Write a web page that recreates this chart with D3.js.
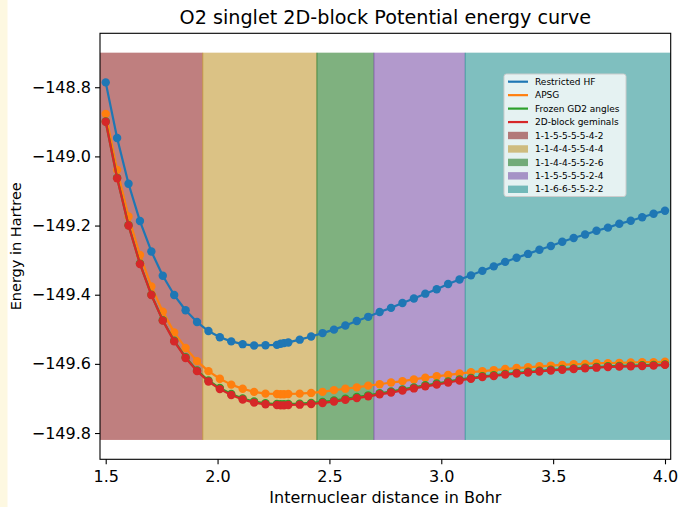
<!DOCTYPE html>
<html><head><meta charset="utf-8">
<script src="https://cdn.jsdelivr.net/npm/d3@7"></script>
<style>
html,body{margin:0;padding:0;background:#fff;}
svg{display:block;font-family:"DejaVu Sans",sans-serif;}
</style></head>
<body>
<svg id="chart" width="678" height="507"></svg>
<script>
// ---- data ----
const distance = [1.5, 1.551, 1.602, 1.6531, 1.7041, 1.7551, 1.8061, 1.8571, 1.9082, 1.9592, 2.0102, 2.0612, 2.1122, 2.1633, 2.2143, 2.2653, 2.282, 2.297, 2.3163, 2.3673, 2.4184, 2.4694, 2.5204, 2.5714, 2.6224, 2.6735, 2.7245, 2.7755, 2.8265, 2.8776, 2.9286, 2.9796, 3.0306, 3.0816, 3.1327, 3.1837, 3.2347, 3.2857, 3.3367, 3.3878, 3.4388, 3.4898, 3.5408, 3.5918, 3.6429, 3.6939, 3.7449, 3.7959, 3.8469, 3.898, 3.949, 4.0];
const restrictedHF = [-148.786, -148.947, -149.079, -149.187, -149.275, -149.345, -149.401, -149.445, -149.479, -149.505, -149.523, -149.535, -149.543, -149.547, -149.546, -149.545, -149.542, -149.540, -149.538, -149.530, -149.521, -149.511, -149.501, -149.489, -149.476, -149.464, -149.450, -149.438, -149.424, -149.411, -149.397, -149.384, -149.369, -149.356, -149.344, -149.331, -149.318, -149.305, -149.293, -149.282, -149.270, -149.259, -149.247, -149.236, -149.226, -149.215, -149.206, -149.195, -149.186, -149.176, -149.166, -149.157];
const apsg = [-148.877, -149.039, -149.174, -149.285, -149.376, -149.449, -149.509, -149.554, -149.592, -149.621, -149.643, -149.660, -149.672, -149.681, -149.686, -149.687, -149.688, -149.688, -149.687, -149.686, -149.684, -149.681, -149.676, -149.672, -149.668, -149.663, -149.659, -149.654, -149.650, -149.645, -149.640, -149.636, -149.632, -149.628, -149.624, -149.621, -149.618, -149.615, -149.612, -149.610, -149.607, -149.605, -149.603, -149.601, -149.600, -149.598, -149.598, -149.597, -149.596, -149.595, -149.595, -149.594];
const frozenGD2 = [-148.899, -149.062, -149.199, -149.310, -149.400, -149.474, -149.533, -149.581, -149.619, -149.648, -149.670, -149.687, -149.700, -149.709, -149.714, -149.716, -149.717, -149.717, -149.716, -149.715, -149.713, -149.710, -149.706, -149.701, -149.696, -149.691, -149.685, -149.680, -149.674, -149.668, -149.662, -149.657, -149.651, -149.645, -149.641, -149.636, -149.633, -149.629, -149.626, -149.623, -149.620, -149.617, -149.615, -149.613, -149.611, -149.609, -149.607, -149.606, -149.605, -149.604, -149.603, -149.602];
const blockGeminals = [-148.900, -149.063, -149.200, -149.311, -149.401, -149.475, -149.535, -149.583, -149.621, -149.651, -149.673, -149.690, -149.703, -149.712, -149.717, -149.719, -149.720, -149.720, -149.719, -149.718, -149.716, -149.713, -149.709, -149.704, -149.699, -149.694, -149.688, -149.683, -149.677, -149.671, -149.665, -149.660, -149.654, -149.648, -149.643, -149.638, -149.635, -149.631, -149.628, -149.625, -149.622, -149.619, -149.617, -149.615, -149.613, -149.611, -149.609, -149.608, -149.607, -149.606, -149.605, -149.603];
const seriesNames = ["Restricted HF", "APSG", "Frozen GD2 angles", "2D-block geminals"];
const seriesColors = ["#1f77b4", "#ff7f0e", "#2ca02c", "#d62728"];
const blockLabels = ["1-1-5-5-5-5-4-2", "1-1-4-4-5-5-4-4", "1-1-4-4-5-5-2-6", "1-1-5-5-5-5-2-4", "1-1-6-6-5-5-2-2"];
const blockColors = ["#800000", "#b8860b", "#006400", "#663399", "#008080"];
const blockEdges = [1.4745, 1.9337, 2.4439, 2.699, 3.1071, 4.0255];
const blockEnergyRange = [-149.82, -148.7];
const xTicks = [1.5, 2.0, 2.5, 3.0, 3.5, 4.0];
const yTicks = [-149.8, -149.6, -149.4, -149.2, -149.0, -148.8];
const xDomain = [1.4745, 4.0255];
const yDomain = [-149.876, -148.644];

// ---- layout ----
const svg = d3.select("#chart");
const L = 100, R = 670.7, T = 33.3, B = 459.3;
svg.append("rect").attr("x",0).attr("y",0).attr("width",7.5).attr("height",507).attr("fill","#fdf8e1");

const x = d3.scaleLinear().domain(xDomain).range([L, R]);
const y = d3.scaleLinear().domain(yDomain).range([B, T]);

const plot = svg.append("g");
// shaded blocks
blockLabels.forEach((lab, i) => {
  plot.append("rect")
    .attr("x", x(blockEdges[i])).attr("width", x(blockEdges[i+1]) - x(blockEdges[i]))
    .attr("y", y(blockEnergyRange[1])).attr("height", y(blockEnergyRange[0]) - y(blockEnergyRange[1]))
    .attr("fill", blockColors[i]).attr("fill-opacity", 0.5);
  if (i > 0) {
    plot.append("line")
      .attr("x1", x(blockEdges[i])).attr("x2", x(blockEdges[i]))
      .attr("y1", y(blockEnergyRange[1])).attr("y2", y(blockEnergyRange[0]))
      .attr("stroke", blockColors[i]).attr("stroke-opacity", 0.45).attr("stroke-width", 1.2);
  }
});

const allSeries = [restrictedHF, apsg, frozenGD2, blockGeminals];
const line = d3.line().x((d, i) => x(distance[i])).y(d => y(d));
allSeries.forEach((vals, s) => {
  const g = plot.append("g");
  g.append("path").datum(vals).attr("d", line)
    .attr("fill", "none").attr("stroke", seriesColors[s]).attr("stroke-width", 2.2)
    .attr("stroke-linejoin", "round").attr("stroke-linecap", "square");
  g.selectAll("circle").data(vals).join("circle")
    .attr("cx", (d, i) => x(distance[i])).attr("cy", d => y(d)).attr("r", 4.2)
    .attr("fill", seriesColors[s]);
});

// axes
const fmt = d => d3.format(".1f")(d);
const xAxis = d3.axisBottom(x).tickValues(xTicks).tickFormat(d3.format(".1f")).tickSizeOuter(0).tickSize(5).tickPadding(6.5);
const yAxis = d3.axisLeft(y).tickValues(yTicks).tickFormat(fmt).tickSizeOuter(0).tickSize(5).tickPadding(4);
const gx = svg.append("g").attr("transform", `translate(0,${B})`).call(xAxis);
const gy = svg.append("g").attr("transform", `translate(${L},0)`).call(yAxis);
[gx, gy].forEach(g => {
  g.select(".domain").remove();
  g.selectAll("line").attr("stroke", "#000").attr("stroke-width", 1.1);
  g.selectAll("text").attr("font-size", 16).attr("fill", "#000").attr("font-family", "DejaVu Sans");
});
svg.append("rect").attr("x", L).attr("y", T).attr("width", R - L).attr("height", B - T)
  .attr("fill", "none").attr("stroke", "#000").attr("stroke-width", 1.1);

// labels
svg.append("text").attr("x", (L + R) / 2).attr("y", 24).attr("text-anchor", "middle")
  .attr("font-size", 19.2).text("O2 singlet 2D-block Potential energy curve");
svg.append("text").attr("x", (L + R) / 2).attr("y", 503).attr("text-anchor", "middle")
  .attr("font-size", 16).text("Internuclear distance in Bohr");
svg.append("text").attr("transform", `translate(21,${(T + B) / 2}) rotate(-90)`).attr("text-anchor", "middle")
  .attr("font-size", 14.5).text("Energy in Hartree");

// legend
const lg = svg.append("g");
lg.append("rect").attr("x", 504).attr("y", 74).attr("width", 122).attr("height", 122.5).attr("rx", 2.5)
  .attr("fill", "#fff").attr("fill-opacity", 0.8).attr("stroke", "#cccccc").attr("stroke-width", 1);
const entryY = i => 81.7 + i * 13.45;
seriesNames.forEach((n, i) => {
  lg.append("line").attr("x1", 508).attr("x2", 528).attr("y1", entryY(i)).attr("y2", entryY(i))
    .attr("stroke", seriesColors[i]).attr("stroke-width", 2.2);
  lg.append("text").attr("x", 535).attr("y", entryY(i)).attr("dy", "0.35em").attr("font-size", 9).text(n);
});
blockLabels.forEach((n, j) => {
  const i = j + 4;
  lg.append("rect").attr("x", 508).attr("y", entryY(i) - 3.7).attr("width", 20).attr("height", 7.4)
    .attr("fill", blockColors[j]).attr("fill-opacity", 0.5);
  lg.append("text").attr("x", 535).attr("y", entryY(i)).attr("dy", "0.35em").attr("font-size", 9).text(n);
});
</script>
</body></html>
